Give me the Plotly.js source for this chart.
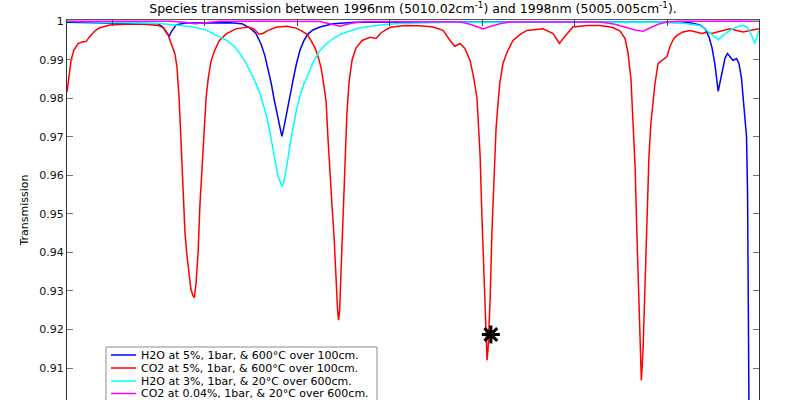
<!DOCTYPE html>
<html>
<head>
<meta charset="utf-8">
<script src="https://cdn.plot.ly/plotly-3.0.1.min.js"></script>
<style>
  html, body { margin: 0; padding: 0; background: #fff; }
  #chart { width: 793px; height: 400px; }
</style>
</head>
<body>
<div id="chart"></div>
<script>
// Wavelength grids (nm) and transmission values for each species
const h2oHotWl = [1996.000,1996.095,1996.211,1996.263,1996.277,1996.289,1996.296,1996.303,1996.315,1996.341,1996.471,1996.506,1996.529,1996.546,1996.561,1996.572,1996.581,1996.590,1996.598,1996.607,1996.616,1996.621,1996.627,1996.636,1996.645,1996.653,1996.662,1996.673,1996.685,1996.697,1996.711,1996.731,1996.769,1996.832,1997.251,1997.685,1997.801,1997.829,1997.844,1997.855,1997.864,1997.873,1997.882,1997.887,1997.893,1997.902,1997.909,1997.916,1997.925,1997.935,1997.942,1997.949,1997.955,1997.960,1997.964,1997.967,1997.969,1997.971];
const h2oHotT = [0.9997,0.9996,0.9995,0.9993,0.9985,0.9968,0.9962,0.9975,0.9990,0.9995,0.9996,0.9993,0.9982,0.9968,0.9940,0.9910,0.9875,0.9840,0.9800,0.9760,0.9720,0.9701,0.9725,0.9770,0.9805,0.9845,0.9885,0.9924,0.9950,0.9967,0.9977,0.9985,0.9993,0.9997,0.9998,0.9998,0.9996,0.9990,0.9980,0.9960,0.9932,0.9885,0.9818,0.9840,0.9868,0.9905,0.9916,0.9907,0.9898,0.9903,0.9890,0.9855,0.9800,0.9750,0.9700,0.9550,0.9300,0.9000];

const co2HotWl = [1996.000,1996.006,1996.012,1996.020,1996.032,1996.043,1996.055,1996.066,1996.081,1996.095,1996.124,1996.168,1996.225,1996.263,1996.280,1996.292,1996.301,1996.306,1996.312,1996.318,1996.324,1996.329,1996.335,1996.341,1996.347,1996.353,1996.358,1996.364,1996.368,1996.373,1996.379,1996.384,1996.390,1996.396,1996.402,1996.408,1996.416,1996.425,1996.439,1996.460,1996.488,1996.523,1996.540,1996.555,1996.566,1996.581,1996.607,1996.636,1996.662,1996.679,1996.694,1996.705,1996.717,1996.725,1996.734,1996.743,1996.749,1996.754,1996.760,1996.766,1996.772,1996.777,1996.782,1996.785,1996.788,1996.792,1996.798,1996.803,1996.809,1996.815,1996.824,1996.835,1996.853,1996.876,1996.893,1996.908,1996.934,1996.977,1997.020,1997.058,1997.087,1997.107,1997.121,1997.136,1997.150,1997.165,1997.176,1997.185,1997.194,1997.199,1997.205,1997.211,1997.214,1997.217,1997.223,1997.228,1997.234,1997.240,1997.246,1997.251,1997.260,1997.272,1997.289,1997.309,1997.329,1997.376,1997.405,1997.416,1997.423,1997.434,1997.445,1997.462,1997.503,1997.540,1997.575,1997.598,1997.613,1997.621,1997.630,1997.636,1997.642,1997.647,1997.653,1997.658,1997.660,1997.665,1997.671,1997.676,1997.682,1997.688,1997.694,1997.699,1997.708,1997.717,1997.725,1997.734,1997.743,1997.754,1997.763,1997.780,1997.801,1997.821,1997.835,1997.850,1997.864,1997.879,1997.896,1997.916,1997.936,1997.954,1997.974,1998.000];
const co2HotT = [0.9816,0.9865,0.9900,0.9925,0.9942,0.9946,0.9947,0.9960,0.9975,0.9983,0.9990,0.9992,0.9992,0.9989,0.9982,0.9965,0.9940,0.9930,0.9915,0.9880,0.9800,0.9700,0.9560,0.9450,0.9390,0.9340,0.9305,0.9288,0.9283,0.9320,0.9400,0.9520,0.9620,0.9730,0.9800,0.9850,0.9895,0.9920,0.9948,0.9967,0.9980,0.9985,0.9980,0.9966,0.9968,0.9976,0.9985,0.9987,0.9982,0.9974,0.9966,0.9950,0.9930,0.9910,0.9880,0.9830,0.9790,0.9700,0.9600,0.9520,0.9440,0.9330,0.9250,0.9224,0.9250,0.9350,0.9500,0.9650,0.9760,0.9840,0.9900,0.9930,0.9950,0.9958,0.9955,0.9970,0.9984,0.9989,0.9988,0.9985,0.9976,0.9950,0.9935,0.9942,0.9929,0.9898,0.9850,0.9800,0.9650,0.9500,0.9340,0.9200,0.9120,0.9150,0.9280,0.9450,0.9600,0.9720,0.9790,0.9840,0.9890,0.9920,0.9950,0.9965,0.9976,0.9980,0.9968,0.9950,0.9942,0.9955,0.9968,0.9985,0.9989,0.9989,0.9984,0.9975,0.9955,0.9920,0.9850,0.9750,0.9620,0.9450,0.9250,0.9100,0.9068,0.9150,0.9330,0.9500,0.9650,0.9740,0.9800,0.9835,0.9890,0.9896,0.9900,0.9908,0.9935,0.9955,0.9963,0.9972,0.9976,0.9972,0.9968,0.9972,0.9968,0.9972,0.9976,0.9980,0.9976,0.9972,0.9976,0.9980];

const h2oColdWl = [1996.000,1996.095,1996.211,1996.269,1996.327,1996.364,1996.399,1996.422,1996.442,1996.462,1996.483,1996.500,1996.514,1996.529,1996.543,1996.558,1996.569,1996.578,1996.587,1996.595,1996.604,1996.611,1996.618,1996.621,1996.626,1996.633,1996.639,1996.645,1996.653,1996.663,1996.673,1996.685,1996.694,1996.711,1996.731,1996.751,1996.769,1996.789,1996.809,1996.847,1996.905,1996.962,1997.107,1997.396,1997.685,1997.772,1997.801,1997.829,1997.849,1997.867,1997.882,1997.896,1997.916,1997.936,1997.954,1997.965,1997.973,1997.980,1997.988,1997.995,1998.000];
const h2oColdT = [0.99995,0.9998,0.9996,0.9994,0.9989,0.9985,0.9978,0.9968,0.9960,0.9950,0.9935,0.9916,0.9897,0.9872,0.9845,0.9812,0.9780,0.9750,0.9710,0.9668,0.9625,0.9596,0.9575,0.9571,0.9578,0.9610,0.9645,0.9682,0.9725,0.9769,0.9805,0.9838,0.9855,0.9893,0.9924,0.9942,0.9955,0.9965,0.9972,0.9983,0.9990,0.9994,0.9997,0.9998,0.9998,0.9996,0.9993,0.9989,0.9976,0.9963,0.9952,0.9963,0.9976,0.9985,0.9989,0.9985,0.9975,0.9960,0.9942,0.9962,0.9976];

const co2AmbWl = [1996.000,1996.298,1996.341,1996.370,1996.399,1996.442,1996.731,1996.760,1996.789,1996.818,1996.861,1997.136,1997.165,1997.188,1997.202,1997.223,1997.251,1997.280,1997.540,1997.584,1997.613,1997.642,1997.665,1997.685,1997.708,1997.734,1997.772,1998.000];
const co2AmbT = [1.0000,1.0000,0.9997,0.9993,0.9996,1.0000,0.9999,0.9993,0.9987,0.9994,0.9999,0.9998,0.9992,0.9985,0.9980,0.9986,0.9993,0.9998,0.9998,0.9992,0.9984,0.9977,0.9974,0.9982,0.9992,0.9998,1.0000,1.0000];

// Marked line centre
const markWl = [1997.225];
const markT = [0.9187];

const seriesNames = [
  'H2O at 5%, 1bar, & 600°C over 100cm.',
  'CO2 at 5%, 1bar, & 600°C over 100cm.',
  'H2O at 3%, 1bar, & 20°C over 600cm.',
  'CO2 at 0.04%, 1bar, & 20°C over 600cm.'
];
const seriesColors = ['#0000ff', '#ff0000', '#00ffff', '#ff00ff'];
const seriesX = [h2oHotWl, co2HotWl, h2oColdWl, co2AmbWl];
const seriesY = [h2oHotT, co2HotT, h2oColdT, co2AmbT];

const yTicks = [0.91, 0.92, 0.93, 0.94, 0.95, 0.96, 0.97, 0.98, 0.99, 1];

const FONT = 'DejaVu Sans, Verdana, sans-serif';

const traces = seriesX.map((xs, i) => ({
  type: 'scatter',
  mode: 'lines',
  x: xs,
  y: seriesY[i],
  name: seriesNames[i],
  line: { color: seriesColors[i], width: 1.5 },
  showlegend: false,
  hoverinfo: 'skip'
}));

traces.push({
  type: 'scatter',
  mode: 'markers',
  x: markWl,
  y: markT,
  marker: { symbol: 'asterisk-open', size: 15, color: '#000', line: { color: '#000', width: 3 } },
  showlegend: false,
  hoverinfo: 'skip'
});

// Hand-built legend box so the entries sit tightly like the original figure
const plotLeft = 67, plotW = 692, plotTop = 20, plotH = 380;
const px = v => (v - plotLeft) / plotW;
const py = v => (plotTop + plotH - v) / plotH;

const shapes = [{
  type: 'rect', xref: 'paper', yref: 'paper',
  x0: px(106), x1: px(377), y0: py(415), y1: py(347),
  fillcolor: '#ffffff', line: { color: '#8c8c8c', width: 1 }, layer: 'above'
}];
const annotations = [];
const rowY = [355, 368, 381, 393.5];
seriesNames.forEach((name, i) => {
  shapes.push({
    type: 'line', xref: 'paper', yref: 'paper',
    x0: px(111), x1: px(136), y0: py(rowY[i]), y1: py(rowY[i]),
    line: { color: seriesColors[i], width: 1.5 }, layer: 'above'
  });
  annotations.push({
    xref: 'paper', yref: 'paper', x: px(139), y: py(rowY[i]),
    xanchor: 'left', yanchor: 'middle', showarrow: false,
    text: name, font: { family: FONT, size: 11, color: '#000' }
  });
});

const layout = {
  width: 793,
  height: 400,
  margin: { l: plotLeft, r: 793 - plotLeft - plotW, t: plotTop, b: 0, pad: 0, autoexpand: false },
  paper_bgcolor: '#ffffff',
  plot_bgcolor: '#ffffff',
  showlegend: false,
  title: {
    text: 'Species transmission between 1996nm (5010.02cm<sup>-1</sup>) and 1998nm (5005.005cm<sup>-1</sup>).',
    font: { family: FONT, size: 12.5, color: '#000' },
    xref: 'paper', x: 0.5, xanchor: 'center',
    yref: 'container', y: 0.978, yanchor: 'middle'
  },
  xaxis: {
    range: [1996, 1998],
    side: 'top',
    showline: true, linecolor: '#555', linewidth: 1, mirror: false,
    ticks: 'inside', ticklen: 6, tickcolor: '#444',
    tickmode: 'linear', tick0: 1996.1309, dtick: 0.26734,
    showticklabels: false, showgrid: false, zeroline: false
  },
  yaxis: {
    range: [0.9017, 1.0003],
    showline: true, linecolor: '#333', linewidth: 1, mirror: 'ticks',
    ticks: 'inside', ticklen: 6, tickcolor: '#777',
    tickmode: 'array', tickvals: yTicks,
    tickfont: { family: FONT, size: 11, color: '#111' },
    showgrid: false, zeroline: false,
    title: { text: 'Transmission', font: { family: FONT, size: 11, color: '#000' }, standoff: 8 }
  },
  shapes: shapes,
  annotations: annotations
};

Plotly.newPlot('chart', traces, layout, { staticPlot: true, displayModeBar: false });
</script>
</body>
</html>
